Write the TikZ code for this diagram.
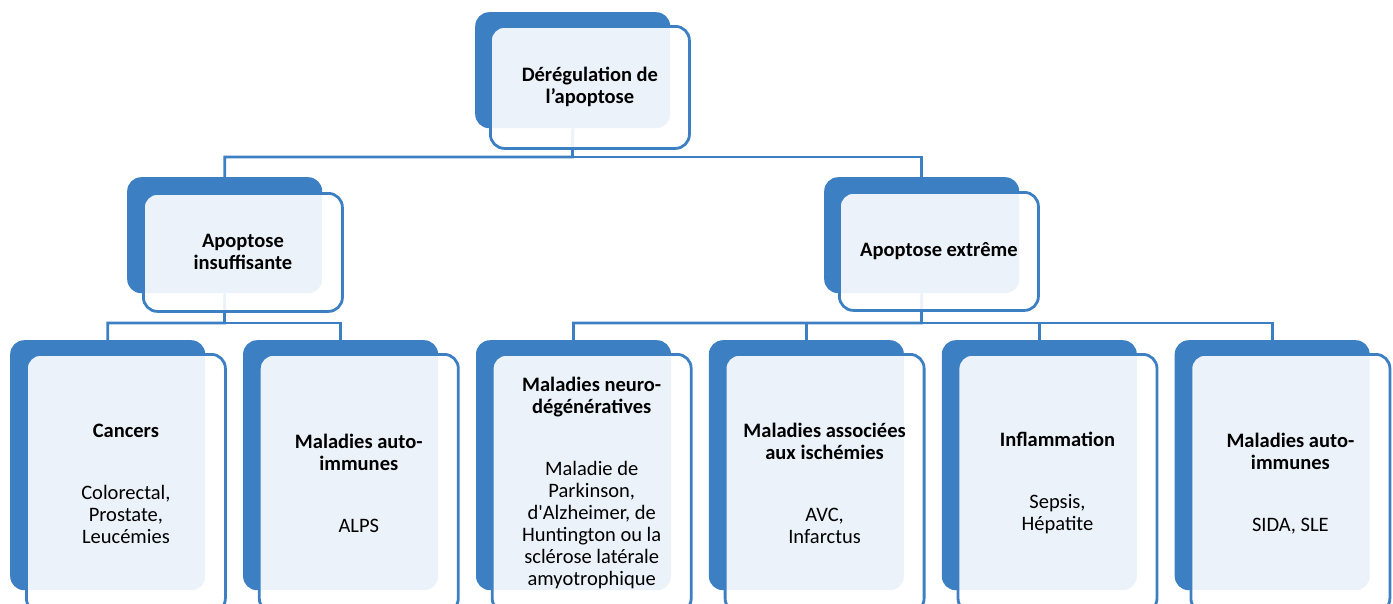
\documentclass[tikz,border=0pt]{standalone}
\usepackage{fontspec}
\setmainfont{Carlito}
\usepackage{xcolor}
\usepackage{tikz}
\usetikzlibrary{positioning}
\definecolor{smartblue}{RGB}{61,127,195}

\begin{document}
\begin{tikzpicture}[x=1pt, y=-1pt,
    every node/.style = {font=\fontsize{20.5}{22}\selectfont, align=center, inner sep=0pt},
    backbox/.style = {fill=smartblue, rounded corners=14pt, minimum width=195pt, minimum height=#1},
    frontbox/.style = {draw=smartblue, line width=2.8pt, fill=white, fill opacity=0.9, text opacity=1,
                       rounded corners=14pt, minimum width=199pt, minimum height=#1, anchor=north west},
    link/.style = {draw=smartblue, line width=2.8pt}
  ]
  \useasboundingbox (0,0) rectangle (1393,603);
  \clip (0,0) rectangle (1393,603);

  % back boxes
  \node[backbox=116pt, anchor=north west] (topb) at (475,12) {};
  \node[backbox=116pt, anchor=north west] (leftb) at (127,177) {};
  \node[backbox=116pt, anchor=north west] (rightb) at (824,177) {};
  \node[backbox=250pt, anchor=north west] (canb) at (10,340) {};
  \node[backbox=250pt] (autob) [right=37.5pt of canb] {};
  \node[backbox=250pt] (neurob) [right=37.5pt of autob] {};
  \node[backbox=250pt] (ischb) [right=37.5pt of neurob] {};
  \node[backbox=250pt] (inflb) [right=37.5pt of ischb] {};
  \node[backbox=250pt] (sidab) [right=37.5pt of inflb] {};

  % connectors
  \coordinate (j0) at (572.5,157);
  \draw[link] (topb.south) -- (j0) -| (leftb.north);
  \draw[link] (j0) -| (rightb.north);
  \coordinate (j1) at (224.5,323);
  \draw[link] (leftb.south) -- (j1) -| (canb.north);
  \draw[link] (j1) -| (autob.north);
  \coordinate (j2) at (921.5,323);
  \draw[link] (rightb.south) -- (j2) -| (neurob.north);
  \draw[link] (j2) -| (ischb.north);
  \draw[link] (j2) -| (inflb.north);
  \draw[link] (j2) -| (sidab.north);

  % front boxes
  \node[frontbox=122pt] (topf) at ([shift={(14,13)}]topb.north west)
    {\textbf{Dérégulation de}\\\textbf{l’apoptose}};
  \node[frontbox=118pt] (leftf) at ([shift={(15,15)}]leftb.north west)
    {\textbf{Apoptose}\\\textbf{insuffisante}};
  \node[frontbox=118pt] (rightf) at ([shift={(14,14)}]rightb.north west)
    {\textbf{Apoptose extrême}};
  \node[frontbox=258pt] (canf) at ([shift={(15,13)}]canb.north west)
    {\textbf{Cancers}\\[40pt]Colorectal,\\Prostate,\\Leucémies};
  \node[frontbox=258pt] (autof) at ([shift={(15,13)}]autob.north west)
    {\textbf{Maladies auto-}\\\textbf{immunes}\\[40pt]ALPS};
  \node[frontbox=258pt] (neurof) at ([shift={(15,13)}]neurob.north west)
    {\textbf{Maladies neuro-}\\\textbf{dégénératives}\\[40pt]Maladie de\\Parkinson,\\d\textquotesingle Alzheimer, de\\Huntington ou la\\sclérose latérale\\amyotrophique};
  \node[frontbox=258pt] (ischf) at ([shift={(15,13)}]ischb.north west)
    {\textbf{Maladies associées}\\\textbf{aux ischémies}\\[40pt]AVC,\\Infarctus};
  \node[frontbox=258pt] (inflf) at ([shift={(15,13)}]inflb.north west)
    {\textbf{Inflammation}\\[40pt]Sepsis,\\Hépatite};
  \node[frontbox=258pt] (sidaf) at ([shift={(15,13)}]sidab.north west)
    {\textbf{Maladies auto-}\\\textbf{immunes}\\[40pt]SIDA, SLE};
\end{tikzpicture}
\end{document}
